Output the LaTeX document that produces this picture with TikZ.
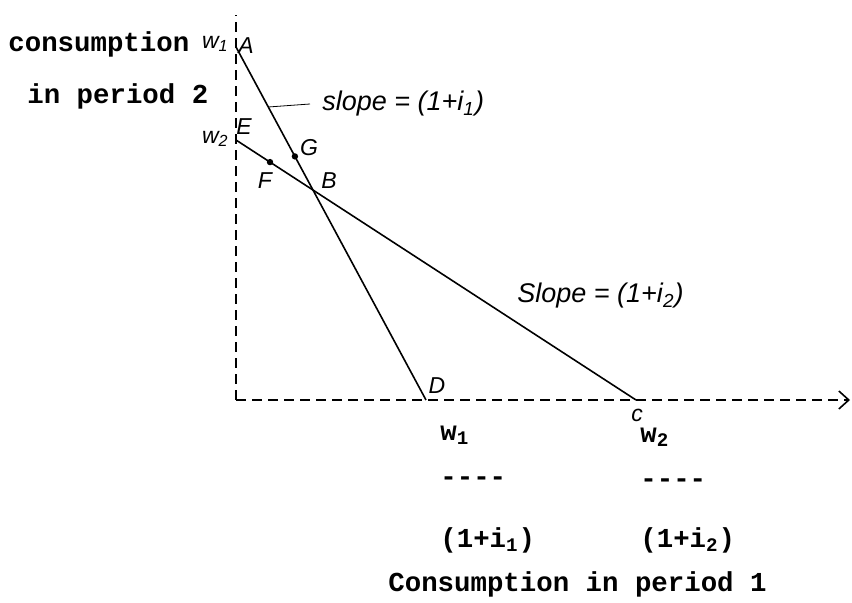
\documentclass[tikz,border=0pt]{standalone}
\usepackage{fontspec}
\setmonofont{Liberation Mono}
\newfontfamily\handfont{Liberation Sans}
\usetikzlibrary{arrows.meta, calc}

\begin{document}
\begin{tikzpicture}[x=0.5pt, y=-0.5pt, >={Straight Barb[length=5pt, width=9pt]}]
    \tikzset{
        typed/.style={font=\ttfamily\bfseries\fontsize{13.7}{15}\selectfont, inner sep=0pt, anchor=west},
        hand/.style={font=\handfont\itshape\fontsize{11.5}{13}\selectfont, inner sep=0pt},
        bighand/.style={hand, font=\handfont\itshape\fontsize{13.5}{15}\selectfont, anchor=west},
        axisline/.style={thick, dash pattern=on 5pt off 3pt},
        budget/.style={thick}
    }
    \useasboundingbox (0,0) rectangle (852,603);

    % Axes
    \coordinate (o) at (236,400);
    \coordinate (ytop) at (236,15);
    \coordinate (xend) at (850,400);
    \draw[axisline] (o) -- (ytop);
    \draw[axisline, ->] (o) -- (xend);

    % Define the points of the two budget lines
    \coordinate (pA) at (236,47);
    \coordinate (pD) at (426,400);
    \coordinate (pE) at (236,140);
    \coordinate (pC) at (636,400);
    \coordinate (pB) at (intersection of pA--pD and pE--pC);
    \coordinate (pG) at ($(pA)!0.31!(pD)$);
    \coordinate (pF) at ($(pE)!0.085!(pC)$);

    % Budget lines
    \draw[budget] (pA) -- (pD);
    \draw[budget] (pE) -- (pC);

    \foreach \p in {pG, pF}
        \fill (\p) circle (1.6pt);

    % Point labels
    \node[hand] (lA) at (246,46) {A};
    \node[hand] (lE) at (244,127) {E};
    \node[hand] (lF) at (265,181) {F};
    \node[hand] (lG) at (309,148) {G};
    \node[hand] (lB) at (329,181) {B};
    \node[hand] (lD) at (437,386) {D};
    \node[hand] (lC) at (637,415) {c};

    % Intercepts on the vertical axis
    \node[hand, anchor=east] (w1) at (229,44) {w\textsubscript{1}};
    \node[hand, anchor=east] (w2) at (229,139) {w\textsubscript{2}};

    % Slope labels
    \coordinate (s1) at ($(pA)!0.17!(pD)$);
    \node[bighand] (slope1) at (322,104) {slope = (1+i\textsubscript{1})};
    \draw (s1) -- ([xshift=-6pt]slope1.west);
    \node[bighand] (slope2) at (517,296) {Slope = (1+i\textsubscript{2})};

    % Typed axis labels
    \node[typed] (ylab1) at (8,44) {consumption};
    \node[typed] (ylab2) at (27,96) {in period 2};

    \node[typed] (num1) at (440,435) {w\textsubscript{1}};
    \node[typed] (bar1) at (440,481) {----};
    \node[typed] (den1) at (440,540) {(1+i\textsubscript{1})};

    \node[typed] (num2) at (640,437) {w\textsubscript{2}};
    \node[typed] (bar2) at (640,483) {----};
    \node[typed] (den2) at (640,540) {(1+i\textsubscript{2})};

    \node[typed] (xlab) at (388,584) {Consumption in period 1};

\end{tikzpicture}
\end{document}
